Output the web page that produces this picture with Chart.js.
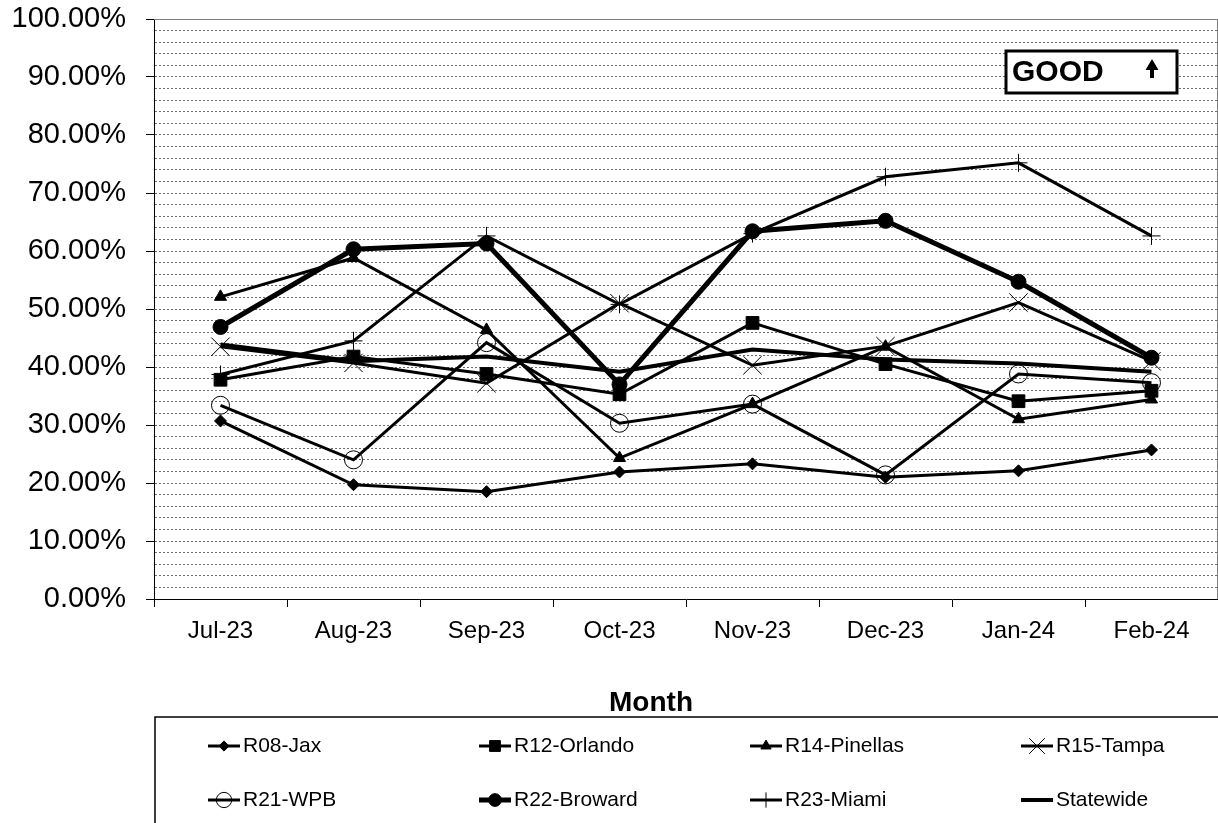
<!DOCTYPE html>
<html>
<head>
<meta charset="utf-8">
<script src="https://cdn.jsdelivr.net/npm/chart.js@4/dist/chart.umd.min.js"></script>
<style>
  html, body { margin: 0; padding: 0; background: #fff; }
  #wrap { width: 1218px; height: 823px; }
</style>
</head>
<body>
<div id="wrap"><canvas id="regionChart"></canvas></div>
<script>
// Monthly rate by region (percent)
const months = ['Jul-23', 'Aug-23', 'Sep-23', 'Oct-23', 'Nov-23', 'Dec-23', 'Jan-24', 'Feb-24'];
const jax       = [30.7, 19.7, 18.5, 21.9, 23.3, 21.0, 22.1, 25.7];
const orlando   = [37.8, 41.8, 38.8, 35.3, 47.6, 40.5, 34.1, 35.9];
const pinellas  = [52.1, 58.8, 46.4, 24.3, 33.6, 43.5, 31.0, 34.4];
const tampa     = [43.5, 40.7, 37.2, 51.0, 40.3, 43.6, 51.1, 41.0];
const wpb       = [33.4, 24.0, 44.2, 30.3, 33.6, 21.4, 38.8, 37.3];
const broward   = [46.9, 60.3, 61.3, 37.0, 63.4, 65.2, 54.7, 41.6];
const miami     = [38.7, 44.5, 62.6, 50.8, 63.0, 72.8, 75.2, 62.6];
const statewide = [43.9, 41.0, 41.8, 39.2, 43.0, 41.3, 40.6, 39.2];

const FONT = 'Arial, "Liberation Sans", sans-serif';
Chart.defaults.font.family = FONT;
Chart.defaults.color = '#000';

// series styling (Excel-like black & white markers)
const series = [
  {label: 'R08-Jax', data: jax, pointStyle: 'rectRot', pointRadius: 6, borderWidth: 3},
  {label: 'R12-Orlando', data: orlando, pointStyle: 'rect', pointRadius: 9, borderWidth: 3},
  {label: 'R14-Pinellas', data: pinellas, pointStyle: 'triangle', pointRadius: 7, borderWidth: 3},
  {label: 'R15-Tampa', data: tampa, pointStyle: 'crossRot', pointRadius: 13, borderWidth: 3},
  {label: 'R21-WPB', data: wpb, pointStyle: 'circle', pointRadius: 9, borderWidth: 3,
    pointBackgroundColor: 'rgba(0,0,0,0)'},
  {label: 'R22-Broward', data: broward, pointStyle: 'circle', pointRadius: 7.5, borderWidth: 5},
  {label: 'R23-Miami', data: miami, pointStyle: 'cross', pointRadius: 9, borderWidth: 3},
  {label: 'Statewide', data: statewide, pointStyle: 'line', pointRadius: 0, borderWidth: 4}
];

const datasets = series.map((s, i) => ({
  label: s.label,
  data: s.data,
  borderColor: '#000',
  borderWidth: s.borderWidth,
  pointStyle: s.pointStyle,
  pointRadius: s.pointRadius,
  pointHoverRadius: s.pointRadius,
  pointBackgroundColor: s.pointBackgroundColor || '#000',
  pointBorderColor: '#000',
  pointBorderWidth: 1,
  tension: 0,
  fill: false,
  order: series.length - i  // later series on top
}));

// Axis title, legend box and the GOOD marker
const extras = {
  id: 'extras',
  afterDraw(chart) {
    const {ctx, chartArea: a} = chart;
    ctx.save();

    // plot area frame (top and right)
    ctx.strokeStyle = '#808080';
    ctx.lineWidth = 1;
    ctx.beginPath();
    ctx.moveTo(a.left, a.top + 0.5);
    ctx.lineTo(a.right, a.top + 0.5);
    ctx.moveTo(a.right - 0.5, a.top);
    ctx.lineTo(a.right - 0.5, a.bottom);
    ctx.stroke();

    // GOOD box with up arrow
    const bx = a.right - 212, by = a.top + 32, bw = 171, bh = 42;
    ctx.fillStyle = '#fff';
    ctx.fillRect(bx, by, bw, bh);
    ctx.strokeStyle = '#000';
    ctx.lineWidth = 3;
    ctx.strokeRect(bx, by, bw, bh);
    ctx.fillStyle = '#000';
    ctx.font = 'bold 30px ' + FONT;
    ctx.textAlign = 'left';
    ctx.textBaseline = 'middle';
    ctx.fillText('GOOD', bx + 6, by + bh / 2 + 1);
    const ax = bx + 146, ay = by + 8;
    ctx.beginPath();
    ctx.moveTo(ax, ay);
    ctx.lineTo(ax + 6.5, ay + 11);
    ctx.lineTo(ax - 6.5, ay + 11);
    ctx.closePath();
    ctx.fill();
    ctx.fillRect(ax - 2, ay + 10, 4, 9);

    // x axis title
    ctx.font = 'bold 28px ' + FONT;
    ctx.textAlign = 'center';
    ctx.fillText('Month', 651, 703);

    // legend frame
    ctx.strokeStyle = '#000';
    ctx.lineWidth = 1.5;
    ctx.beginPath();
    ctx.moveTo(chart.width + 2, 717);
    ctx.lineTo(155, 717);
    ctx.lineTo(155, chart.height + 2);
    ctx.stroke();

    // legend entries, 4 columns x 2 rows
    const cols = [208, 479, 750, 1021];
    const rows = [746, 800];
    ctx.font = '21px ' + FONT;
    ctx.textAlign = 'left';
    chart.data.datasets.forEach((ds, i) => {
      const x = cols[i % 4], y = rows[Math.floor(i / 4)];
      ctx.strokeStyle = '#000';
      ctx.lineWidth = ds.borderWidth;
      ctx.beginPath();
      ctx.moveTo(x, y);
      ctx.lineTo(x + 32, y);
      ctx.stroke();
      if (ds.pointRadius > 0 && Chart.helpers && Chart.helpers.drawPoint) {
        ctx.fillStyle = ds.pointBackgroundColor;
        ctx.strokeStyle = '#000';
        ctx.lineWidth = 1;
        Chart.helpers.drawPoint(ctx, {
          pointStyle: ds.pointStyle,
          radius: ds.pointRadius * 0.85,
          rotation: 0,
          borderWidth: 1
        }, x + 16, y);
      }
      ctx.fillStyle = '#000';
      ctx.fillText(ds.label, x + 35, y);
    });

    ctx.restore();
  }
};

new Chart(document.getElementById('regionChart').getContext('2d'), {
  type: 'line',
  data: {labels: months, datasets: datasets},
  options: {
    responsive: true,
    maintainAspectRatio: false,
    animation: false,
    layout: {autoPadding: false, padding: {top: 19, left: 0, right: 0, bottom: 0}},
    plugins: {
      legend: {display: false},
      tooltip: {enabled: false}
    },
    scales: {
      x: {
        type: 'category',
        offset: true,
        grid: {
          offset: true,
          drawOnChartArea: false,
          drawTicks: true,
          tickLength: 8,
          tickColor: '#000',
          tickWidth: 1
        },
        border: {color: '#000', width: 1},
        ticks: {
          color: '#000',
          font: {size: 24},
          padding: 10,
          maxRotation: 0,
          autoSkip: false
        },
        afterFit(scale) {
          scale.height = 224;
          scale.paddingLeft = 0;
          scale.paddingRight = 0;
        }
      },
      y: {
        min: 0,
        max: 100,
        ticks: {
          stepSize: 2,
          autoSkip: false,
          color: '#000',
          font: {size: 29},
          padding: 20,
          callback: v => (v % 10 === 0 ? v.toFixed(2) + '%' : '')
        },
        grid: {
          color: c => (c.tick && c.tick.value === 0 ? 'rgba(0,0,0,0)' : '#6e6e6e'),
          lineWidth: 1,
          tickLength: 8,
          tickWidth: 1,
          tickColor: c => (c.tick && c.tick.value % 10 === 0 ? '#000' : 'rgba(0,0,0,0)')
        },
        border: {color: '#000', width: 1, dash: [2, 2]},
        afterFit(scale) {
          scale.width = 154;
          scale.paddingTop = 0;
          scale.paddingBottom = 0;
        }
      }
    }
  },
  plugins: [extras]
});
</script>
</body>
</html>
